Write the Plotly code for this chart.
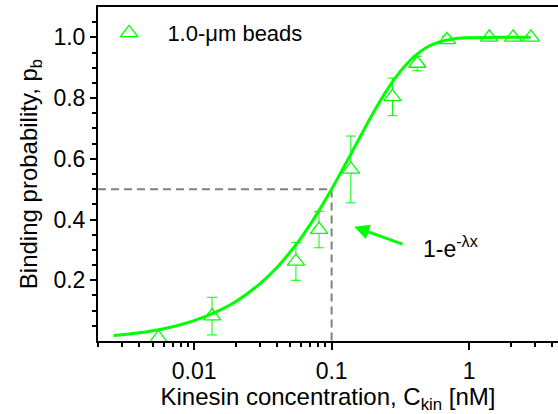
import plotly.graph_objects as go
import math

# Measured data (1.0-um beads)
conc = [0.0055, 0.0135, 0.055, 0.081, 0.138, 0.277, 0.42, 0.69, 1.40, 2.09, 2.81]
pb = [0.010, 0.082, 0.262, 0.367, 0.565, 0.804, 0.914, 0.992, 1.0, 1.0, 1.0]
pb_err = [0.0, 0.062, 0.062, 0.060, 0.110, 0.062, 0.024, 0.012, 0.0, 0.0, 0.0]

# Fit curve
fit_x = [0.0026, 0.004, 0.005, 0.007, 0.01, 0.015, 0.02, 0.03, 0.04, 0.05, 0.06, 0.07, 0.08,
         0.1, 0.12, 0.15, 0.2, 0.25, 0.3, 0.4, 0.5, 0.6, 0.8, 1.0, 1.5, 2.0, 2.8]
fit_y = [0.018, 0.027, 0.034, 0.047, 0.067, 0.099, 0.129, 0.188, 0.242, 0.293, 0.340, 0.384, 0.426,
         0.500, 0.565, 0.646, 0.750, 0.823, 0.875, 0.937, 0.969, 0.984, 0.996, 0.999, 1.0, 1.0, 1.0]

# Guide lines at half binding
guide_x = [0.002, 0.1, 0.1]
guide_y = [0.5, 0.5, 0.0]

y_ticks = [0.2, 0.4, 0.6, 0.8, 1.0]
y_ticktext = ["0.2", "0.4", "0.6", "0.8", "1.0"]
y_minor = [0.05, 0.1, 0.15, 0.25, 0.3, 0.35, 0.45, 0.5, 0.55, 0.65, 0.7, 0.75, 0.85, 0.9, 0.95, 1.05]
x_ticks = [0.01, 0.1, 1]
x_ticktext = ["0.01", "0.1", "1"]
x_minor = [0.002, 0.003, 0.004, 0.005, 0.006, 0.007, 0.008, 0.009,
           0.02, 0.03, 0.04, 0.05, 0.06, 0.07, 0.08, 0.09,
           2, 3, 4]

GREEN = "#00ff00"
FONT = "Liberation Sans, Arial, sans-serif"

fig = go.Figure()

fig.add_trace(go.Scatter(
    x=guide_x, y=guide_y, mode="lines",
    line=dict(color="#808080", width=2, dash="8px,5px"),
    showlegend=False, hoverinfo="skip"))

fig.add_trace(go.Scatter(
    x=conc, y=pb, mode="markers", name="\u00a0\u00a0\u00a01.0-μm beads",
    marker=dict(symbol="triangle-up", size=15, color="white",
                line=dict(color=GREEN, width=1.3)),
    error_y=dict(type="data", array=pb_err, visible=True, color=GREEN,
                 thickness=1, width=5),
))

fig.add_trace(go.Scatter(
    x=fit_x, y=fit_y, mode="lines", line=dict(color=GREEN, width=3, shape="spline"),
    showlegend=False, hoverinfo="skip"))

fig.add_annotation(
    x=math.log10(0.146), y=0.376, ax=math.log10(0.336), ay=0.317,
    xref="x", yref="y", axref="x", ayref="y",
    text="", showarrow=True, arrowhead=2, arrowsize=1, arrowwidth=3,
    arrowcolor=GREEN)

fig.add_annotation(
    x=math.log10(0.45), y=0.31, xref="x", yref="y",
    text="1-e<sup>-λx</sup>", showarrow=False, xanchor="left", yanchor="middle",
    font=dict(family=FONT, size=23, color="black"))

fig.update_layout(
    width=558, height=414,
    margin=dict(l=98, r=0, t=7, b=73),
    paper_bgcolor="white", plot_bgcolor="white",
    font=dict(family=FONT, size=23, color="black"),
    legend=dict(x=0.024, y=0.985, xanchor="left", yanchor="top",
                bgcolor="rgba(0,0,0,0)", font=dict(size=22)),
    xaxis=dict(
        type="log", range=[math.log10(0.002), math.log10(4.43)],
        showline=True, linecolor="black", linewidth=2, mirror=True,
        showgrid=False, zeroline=False,
        tickmode="array", tickvals=x_ticks, ticktext=x_ticktext,
        ticks="outside", ticklen=7, tickwidth=1.5, tickcolor="black",
        ticklabelstandoff=1,
        minor=dict(tickvals=x_minor, ticks="outside", ticklen=4, tickwidth=1.5,
                   tickcolor="black", showgrid=False),
        title=dict(text="Kinesin concentration, C<sub>kin</sub> [nM]", standoff=5,
                   font=dict(size=24)),
    ),
    yaxis=dict(
        range=[0, 1.1],
        showline=True, linecolor="black", linewidth=2, mirror=False,
        showgrid=False, zeroline=False,
        tickmode="array", tickvals=y_ticks, ticktext=y_ticktext,
        ticks="outside", ticklen=6, tickwidth=1.5, tickcolor="black",
        minor=dict(tickvals=y_minor, ticks="outside", ticklen=4, tickwidth=1.5,
                   tickcolor="black", showgrid=False),
        title=dict(text="Binding probability, p<sub>b</sub>", standoff=9,
                   font=dict(size=24)),
    ),
)

fig.write_html("out.html")
